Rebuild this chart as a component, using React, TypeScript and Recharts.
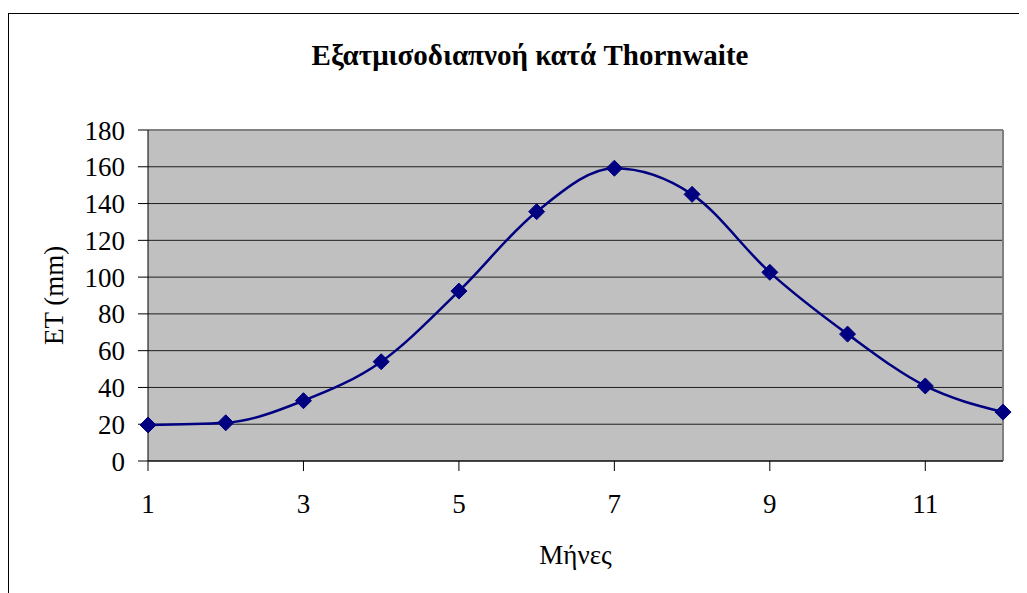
import React from 'react';
import { LineChart, Line, XAxis, YAxis, CartesianGrid, ReferenceLine } from 'recharts';

const months = [1, 2, 3, 4, 5, 6, 7, 8, 9, 10, 11, 12];
const etValues = [19.6, 20.8, 32.8, 54.0, 92.4, 135.6, 159.2, 145.0, 102.6, 69.0, 40.8, 26.6];
const xTicks = [1, 3, 5, 7, 9, 11];
const yTicks = [0, 20, 40, 60, 80, 100, 120, 140, 160, 180];

const TITLE = 'Εξατμισοδιαπνοή κατά Thornwaite';
const X_LABEL = 'Μήνες';
const Y_LABEL = 'ET (mm)';

const FONT = '"Liberation Serif", "Times New Roman", serif';
const LINE_COLOR = '#000080';

const chartData = months.map((m, i) => ({ month: m, et: etValues[i] }));

// diamond marker like the old spreadsheet chart
const Diamond = (props: any) => {
  const { cx, cy } = props;
  if (cx == null || cy == null) return null;
  const r = 8;
  return (
    <polygon
      points={`${cx},${cy - r} ${cx + r},${cy} ${cx},${cy + r} ${cx - r},${cy}`}
      fill={LINE_COLOR}
      stroke={LINE_COLOR}
    />
  );
};

export default function App() {
  const tickStyle = { fill: '#000', fontSize: 27, fontFamily: FONT };

  return (
    <div style={{ position: 'relative', width: 1019, height: 585, overflow: 'hidden', background: '#fff', fontFamily: FONT }}>
      <div
        style={{
          position: 'absolute',
          left: 0,
          top: 5,
          width: '100%',
          height: '100%',
          borderLeft: '1px solid #000',
          borderTop: '1px solid #000',
        }}
      />
      <div
        style={{
          position: 'absolute',
          left: 0,
          top: 31,
          width: 1044,
          textAlign: 'center',
          fontFamily: FONT,
          fontWeight: 'bold',
          fontSize: 29,
          lineHeight: '32px',
          color: '#000',
        }}
      >
        {TITLE}
      </div>
      <div style={{ position: 'absolute', left: 0, top: 0, fontFamily: FONT }}>
        <LineChart
          width={1019}
          height={585}
          data={chartData}
          margin={{ top: 122, right: 24, bottom: 22, left: 20 }}
          style={{ fontFamily: FONT }}
        >
          <CartesianGrid vertical={false} fill="#c0c0c0" stroke="#000" strokeOpacity={0.85} />
          <XAxis
            dataKey="month"
            type="number"
            domain={[1, 12]}
            ticks={xTicks}
            tick={tickStyle}
            tickSize={10}
            tickMargin={23}
            height={110}
            axisLine={{ stroke: '#000' }}
            tickLine={{ stroke: '#000' }}
            label={{ value: X_LABEL, position: 'insideBottom', offset: 7, fontFamily: FONT, fontSize: 27, fill: '#000' }}
          />
          <YAxis
            type="number"
            domain={[0, 180]}
            ticks={yTicks}
            tick={tickStyle}
            tickSize={10}
            tickMargin={13}
            width={120}
            axisLine={{ stroke: '#000' }}
            tickLine={{ stroke: '#000' }}
            label={{
              value: Y_LABEL,
              position: 'insideLeft',
              angle: -90,
              offset: 25,
              fontFamily: FONT,
              fontSize: 27,
              fill: '#000',
              style: { textAnchor: 'middle' },
            }}
          />
          <ReferenceLine y={180} stroke="#808080" strokeWidth={2} />
          <ReferenceLine x={12} stroke="#808080" strokeWidth={2} />
          <Line
            type="monotone"
            dataKey="et"
            stroke={LINE_COLOR}
            strokeWidth={2.5}
            dot={<Diamond />}
            activeDot={false}
            isAnimationActive={false}
          />
        </LineChart>
      </div>
    </div>
  );
}
